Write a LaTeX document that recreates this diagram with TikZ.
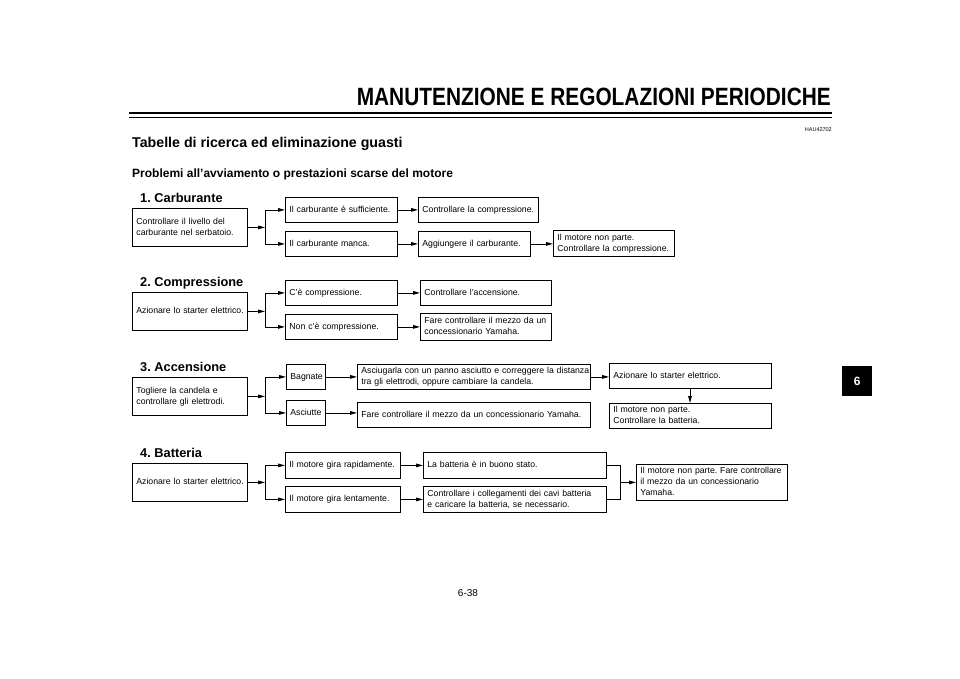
\documentclass[tikz,border=0pt]{standalone}
\usepackage{fontspec}
\usepackage{graphicx}
\setmainfont{Liberation Sans}
\usetikzlibrary{arrows.meta}
\frenchspacing
\begin{document}
\begin{tikzpicture}[x=1pt,y=-1pt,
  bx/.style 2 args={draw, line width=0.8pt, anchor=north west, inner xsep=4pt, inner ysep=0pt,
    align=left, text width=#1, minimum height=#2, font=\fontsize{8.7}{11}\selectfont,
    execute at begin node=\strut, execute at end node=\strut},
  arr/.style={line width=0.8pt, -{Triangle[length=7pt,width=3.6pt]}},
  ln/.style={line width=0.8pt},
  sec/.style={anchor=base west, inner sep=0pt, font=\fontsize{12.8}{14}\selectfont\bfseries}]
\fill[white] (0,0) rectangle (960,679);
\useasboundingbox (0,0) rectangle (960,679);

% header
\node[anchor=base east, inner sep=0pt] (title) at (831,106)
  {\resizebox{474pt}{\height}{\fontsize{25}{25}\selectfont\bfseries MANUTENZIONE E REGOLAZIONI PERIODICHE}};
\draw[line width=2.5pt] (129,113) -- (832,113);
\draw[line width=1pt] (129,117.5) -- (832,117.5);
\node[anchor=base east, inner sep=0pt, font=\fontsize{5.5}{6}\selectfont] (code) at (832,132) {HAU42702};
\node[anchor=base west, inner sep=0pt, font=\fontsize{14.2}{16}\selectfont\bfseries] (h1) at (132,148) {Tabelle di ricerca ed eliminazione guasti};
\node[anchor=base west, inner sep=0pt, font=\fontsize{12}{14}\selectfont\bfseries] (h2) at (132,178) {Problemi all’avviamento o prestazioni scarse del motore};

% tab and footer
\node[fill=black, minimum width=30pt, minimum height=30pt, inner sep=0pt, anchor=north west,
  text=white, font=\fontsize{12}{12}\selectfont\bfseries] (tab) at (842,366) {6};
\node[anchor=base, inner sep=0pt, font=\fontsize{10}{12}\selectfont] (foot) at (468,596) {6-38};

% 1. Carburante
\node[sec] (s1) at (140,202) {1. Carburante};
\node[bx={107pt}{38pt}] (A1) at (132,208) {\mbox{Controllare il livello del}\\\mbox{carburante nel serbatoio.}};
\node[bx={104pt}{25pt}] (B1a) at (285,197) {\mbox{Il carburante è sufficiente.}};
\node[bx={104pt}{25pt}] (B1b) at (285,231) {\mbox{Il carburante manca.}};
\node[bx={112pt}{25pt}] (C1a) at (418,197) {\mbox{Controllare la compressione.}};
\node[bx={104pt}{25pt}] (C1b) at (418,231) {\mbox{Aggiungere il carburante.}};
\node[bx={113pt}{26pt}] (D1) at (553,230) {\mbox{Il motore non parte.}\\\mbox{Controllare la compressione.}};
\coordinate (j1) at (265,0);
\draw[arr] (A1.east) -- (A1.east -| j1);
\draw[ln] (B1a.west -| j1) -- (B1b.west -| j1);
\draw[arr] (B1a.west -| j1) -- (B1a.west);
\draw[arr] (B1b.west -| j1) -- (B1b.west);
\draw[arr] (B1a.east) -- (B1a.east -| C1a.west);
\draw[arr] (B1b.east) -- (B1b.east -| C1b.west);
\draw[arr] (C1b.east) -- (C1b.east -| D1.west);

% 2. Compressione
\node[sec] (s2) at (140,286) {2. Compressione};
\node[bx={107pt}{38pt}] (A2) at (132,292) {\mbox{Azionare lo starter elettrico.}};
\node[bx={104pt}{25pt}] (B2a) at (285,280) {\mbox{C’è compressione.}};
\node[bx={104pt}{25pt}] (B2b) at (285,314) {\mbox{Non c’è compressione.}};
\node[bx={123pt}{25pt}] (C2a) at (420,280) {\mbox{Controllare l’accensione.}};
\node[bx={123pt}{27pt}] (C2b) at (420,313) {\mbox{Fare controllare il mezzo da un}\\\mbox{concessionario Yamaha.}};
\coordinate (j2) at (265,0);
\draw[arr] (A2.east) -- (A2.east -| j2);
\draw[ln] (B2a.west -| j2) -- (B2b.west -| j2);
\draw[arr] (B2a.west -| j2) -- (B2a.west);
\draw[arr] (B2b.west -| j2) -- (B2b.west);
\draw[arr] (B2a.east) -- (B2a.east -| C2a.west);
\draw[arr] (B2b.east) -- (B2b.east -| C2b.west);

% 3. Accensione
\node[sec] (s3) at (140,371) {3. Accensione};
\node[bx={107pt}{38pt}] (A3) at (132,377) {\mbox{Togliere la candela e}\\\mbox{controllare gli elettrodi.}};
\node[bx={31pt}{25pt}] (B3a) at (286,364) {\mbox{Bagnate}};
\node[bx={31pt}{25pt}] (B3b) at (286,400) {\mbox{Asciutte}};
\node[bx={225pt}{25pt}] (C3a) at (357,364) {\mbox{Asciugarla con un panno asciutto e correggere la distanza}\\\mbox{tra gli elettrodi, oppure cambiare la candela.}};
\node[bx={225pt}{25pt}] (C3b) at (357,402) {\mbox{Fare controllare il mezzo da un concessionario Yamaha.}};
\node[bx={154pt}{25pt}] (D3a) at (609,363) {\mbox{Azionare lo starter elettrico.}};
\node[bx={154pt}{25pt}] (D3b) at (609,403) {\mbox{Il motore non parte.}\\\mbox{Controllare la batteria.}};
\coordinate (j3) at (265,0);
\draw[arr] (A3.east) -- (A3.east -| j3);
\draw[ln] (B3a.west -| j3) -- (B3b.west -| j3);
\draw[arr] (B3a.west -| j3) -- (B3a.west);
\draw[arr] (B3b.west -| j3) -- (B3b.west);
\draw[arr] (B3a.east) -- (B3a.east -| C3a.west);
\draw[arr] (B3b.east) -- (B3b.east -| C3b.west);
\draw[arr] (C3a.east) -- (C3a.east -| D3a.west);
\coordinate (v3) at (690,0);
\draw[arr] (D3a.south -| v3) -- (D3b.north -| v3);

% 4. Batteria
\node[sec] (s4) at (140,457) {4. Batteria};
\node[bx={107pt}{38pt}] (A4) at (132,463) {\mbox{Azionare lo starter elettrico.}};
\node[bx={107pt}{26pt}] (B4a) at (285,452) {\mbox{Il motore gira rapidamente.}};
\node[bx={107pt}{26pt}] (B4b) at (285,486) {\mbox{Il motore gira lentamente.}};
\node[bx={175pt}{26pt}] (C4a) at (423,452) {\mbox{La batteria è in buono stato.}};
\node[bx={175pt}{26pt}] (C4b) at (423,486) {\mbox{Controllare i collegamenti dei cavi batteria}\\\mbox{e caricare la batteria, se necessario.}};
\node[bx={143pt}{36pt}] (D4) at (636,464) {\mbox{Il motore non parte. Fare controllare}\\\mbox{il mezzo da un concessionario}\\\mbox{Yamaha.}};
\coordinate (j4) at (265,0);
\draw[arr] (A4.east) -- (A4.east -| j4);
\draw[ln] (B4a.west -| j4) -- (B4b.west -| j4);
\draw[arr] (B4a.west -| j4) -- (B4a.west);
\draw[arr] (B4b.west -| j4) -- (B4b.west);
\draw[arr] (B4a.east) -- (B4a.east -| C4a.west);
\draw[arr] (B4b.east) -- (B4b.east -| C4b.west);
\coordinate (m4) at (620,0);
\draw[ln] (C4a.east) -- (C4a.east -| m4) -- (C4b.east -| m4) -- (C4b.east);
\draw[arr] (D4.west -| m4) -- (D4.west);
\end{tikzpicture}
\end{document}
